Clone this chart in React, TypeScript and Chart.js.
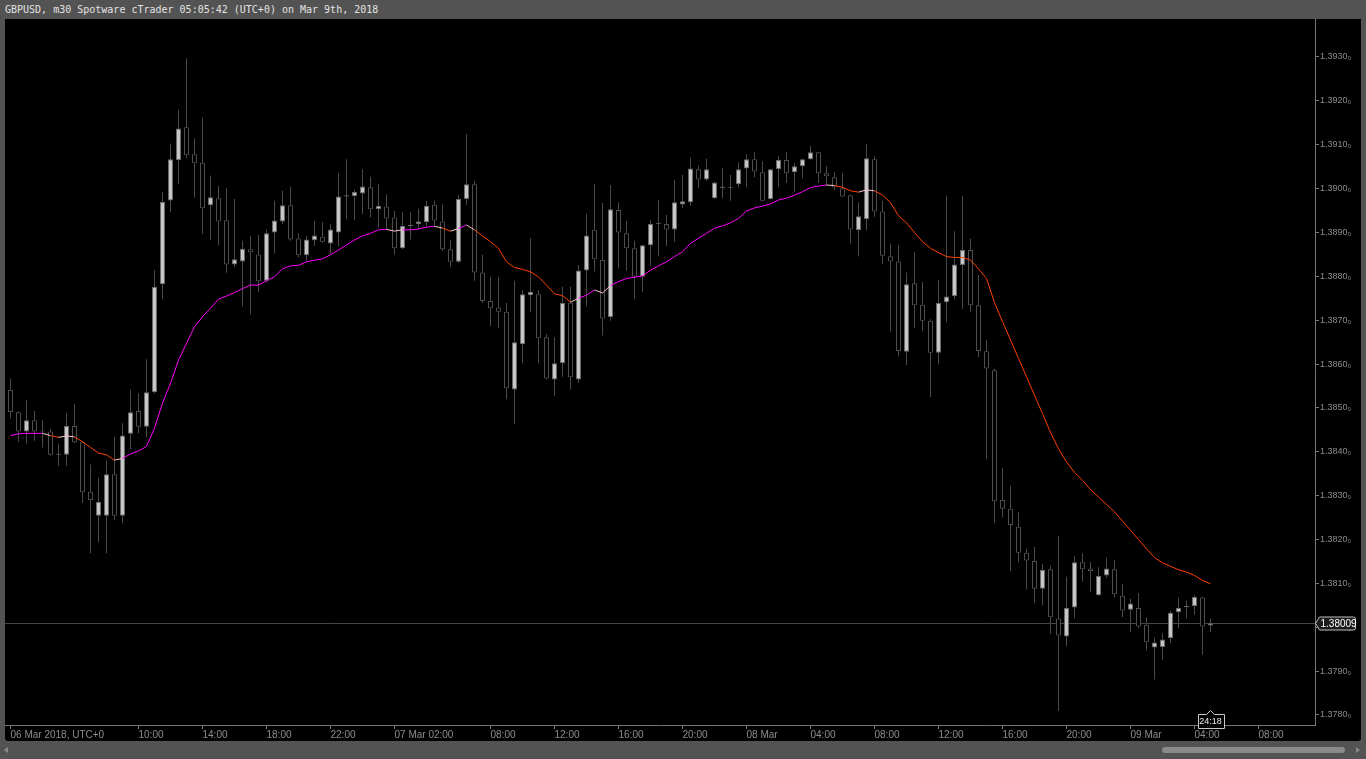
import { useEffect, useRef } from "react";
import { Chart, registerables } from "chart.js";

Chart.register(...registerables);

const TITLE = "GBPUSD, m30 Spotware cTrader 05:05:42 (UTC+0) on Mar 9th, 2018";

// 30-minute candles from 06 Mar 2018 02:00 to 09 Mar 2018 05:00 (index = candle number)
const OPEN = [
  1.38541, 1.38490, 1.38446, 1.38472, 1.38447, 1.38446, 1.38393, 1.38393, 1.38459, 1.38422,
  1.38309, 1.38254, 1.38254, 1.38349, 1.38254, 1.38441, 1.38493, 1.38457, 1.38536, 1.38782,
  1.38973, 1.39065, 1.39140, 1.39078, 1.39059, 1.38962, 1.38978, 1.38928, 1.38827, 1.38834,
  1.38862, 1.38850, 1.38790, 1.38900, 1.38925, 1.38962, 1.38886, 1.38848, 1.38882, 1.38890,
  1.38875, 1.38900, 1.38982, 1.38983, 1.38989, 1.39003, 1.38953, 1.38959, 1.38934, 1.38864,
  1.38915, 1.38919, 1.38923, 1.38963, 1.38925, 1.38862, 1.38833, 1.38976, 1.39010, 1.38809,
  1.38744, 1.38729, 1.38719, 1.38542, 1.38645, 1.38757, 1.38759, 1.38661, 1.38565, 1.38602,
  1.38740, 1.38565, 1.38813, 1.38906, 1.38837, 1.38707, 1.38951, 1.38898, 1.38864, 1.38799,
  1.38871, 1.38919, 1.38919, 1.38907, 1.38964, 1.38969, 1.39044, 1.39021, 1.38978, 1.39005,
  1.39002, 1.39010, 1.39046, 1.39067, 1.39037, 1.38976, 1.39044, 1.39065, 1.39037, 1.39051,
  1.39067, 1.39083, 1.39035, 1.39026, 1.39001, 1.38985, 1.38905, 1.38930, 1.39067, 1.38948,
  1.38846, 1.38834, 1.38628, 1.38784, 1.38735, 1.38699, 1.38626, 1.38741, 1.38755, 1.38826,
  1.38860, 1.38734, 1.38629, 1.38586, 1.38290, 1.38270, 1.38229, 1.38170, 1.38151, 1.38088,
  1.38132, 1.38020, 1.37979, 1.38045, 1.38148, 1.38134, 1.38073, 1.38118, 1.38132, 1.38072,
  1.38040, 1.38044, 1.38006, 1.37954, 1.37955, 1.37975, 1.38034, 1.38046, 1.38048, 1.38068,
  1.38004,
];
const HIGH = [
  1.38567, 1.38492, 1.38518, 1.38493, 1.38472, 1.38452, 1.38419, 1.38488, 1.38509, 1.38423,
  1.38371, 1.38340, 1.38381, 1.38434, 1.38465, 1.38542, 1.38533, 1.38611, 1.38814, 1.38992,
  1.39103, 1.39179, 1.39297, 1.39115, 1.39162, 1.39030, 1.39006, 1.39001, 1.38976, 1.38881,
  1.38892, 1.38894, 1.38907, 1.38972, 1.38995, 1.39004, 1.38898, 1.38892, 1.38926, 1.38923,
  1.38919, 1.39035, 1.39067, 1.38997, 1.39044, 1.39027, 1.39011, 1.38987, 1.38949, 1.38946,
  1.38946, 1.38954, 1.38972, 1.38972, 1.38964, 1.38883, 1.38985, 1.39124, 1.39017, 1.38849,
  1.38799, 1.38798, 1.38739, 1.38790, 1.38769, 1.38887, 1.38769, 1.38668, 1.38661, 1.38776,
  1.38776, 1.38826, 1.38942, 1.39011, 1.38967, 1.39008, 1.38969, 1.38926, 1.38881, 1.38872,
  1.38928, 1.38974, 1.38940, 1.39020, 1.39031, 1.39071, 1.39052, 1.39068, 1.39016, 1.39047,
  1.39031, 1.39060, 1.39079, 1.39083, 1.39062, 1.39045, 1.39074, 1.39083, 1.39058, 1.39068,
  1.39097, 1.39084, 1.39051, 1.39037, 1.39035, 1.38986, 1.38969, 1.39102, 1.39074, 1.38972,
  1.38875, 1.38871, 1.38809, 1.38855, 1.38787, 1.38702, 1.38792, 1.38984, 1.38903, 1.38983,
  1.38886, 1.38803, 1.38655, 1.38590, 1.38363, 1.38322, 1.38263, 1.38179, 1.38183, 1.38145,
  1.38141, 1.38208, 1.38115, 1.38162, 1.38168, 1.38149, 1.38137, 1.38159, 1.38153, 1.38099,
  1.38065, 1.38078, 1.38023, 1.37976, 1.37986, 1.38037, 1.38068, 1.38061, 1.38073, 1.38069,
  1.38019,
];
const LOW = [
  1.38476, 1.38423, 1.38419, 1.38425, 1.38410, 1.38391, 1.38368, 1.38368, 1.38420, 1.38283,
  1.38169, 1.38194, 1.38169, 1.38244, 1.38237, 1.38406, 1.38442, 1.38433, 1.38533, 1.38748,
  1.38946, 1.39011, 1.39069, 1.38979, 1.38897, 1.38883, 1.38871, 1.38808, 1.38821, 1.38731,
  1.38713, 1.38765, 1.38786, 1.38852, 1.38919, 1.38881, 1.38843, 1.38833, 1.38869, 1.38877,
  1.38851, 1.38868, 1.38930, 1.38928, 1.38942, 1.38934, 1.38911, 1.38907, 1.38850, 1.38862,
  1.38884, 1.38906, 1.38913, 1.38913, 1.38858, 1.38822, 1.38831, 1.38963, 1.38790, 1.38739,
  1.38687, 1.38683, 1.38520, 1.38463, 1.38602, 1.38719, 1.38602, 1.38565, 1.38528, 1.38571,
  1.38542, 1.38557, 1.38732, 1.38811, 1.38665, 1.38699, 1.38818, 1.38813, 1.38749, 1.38764,
  1.38824, 1.38846, 1.38869, 1.38879, 1.38955, 1.38961, 1.39002, 1.39018, 1.38976, 1.38978,
  1.38972, 1.39003, 1.39003, 1.39026, 1.38971, 1.38975, 1.39004, 1.39013, 1.38993, 1.39023,
  1.39066, 1.39013, 1.39008, 1.38997, 1.38981, 1.38875, 1.38845, 1.38905, 1.38936, 1.38828,
  1.38674, 1.38617, 1.38598, 1.38683, 1.38676, 1.38525, 1.38599, 1.38696, 1.38748, 1.38726,
  1.38719, 1.38616, 1.38384, 1.38238, 1.38250, 1.38128, 1.38149, 1.38086, 1.38056, 1.38050,
  1.37985, 1.37809, 1.37957, 1.38021, 1.38104, 1.38080, 1.38072, 1.38113, 1.38068, 1.38023,
  1.37989, 1.37998, 1.37947, 1.37881, 1.37926, 1.37964, 1.37998, 1.38020, 1.38029, 1.37938,
  1.37989,
];
const CLOSE = [
  1.38491, 1.38446, 1.38472, 1.38446, 1.38446, 1.38393, 1.38394, 1.38459, 1.38422, 1.38308,
  1.38290, 1.38286, 1.38349, 1.38254, 1.38437, 1.38490, 1.38457, 1.38536, 1.38776, 1.38970,
  1.39067, 1.39137, 1.39076, 1.39058, 1.38955, 1.38980, 1.38925, 1.38827, 1.38839, 1.38863,
  1.38855, 1.38789, 1.38898, 1.38927, 1.38962, 1.38884, 1.38848, 1.38884, 1.38893, 1.38879,
  1.38907, 1.38982, 1.38985, 1.38992, 1.39005, 1.38953, 1.38961, 1.38932, 1.38864, 1.38915,
  1.38916, 1.38925, 1.38961, 1.38927, 1.38862, 1.38833, 1.38976, 1.39010, 1.38809, 1.38744,
  1.38727, 1.38719, 1.38545, 1.38650, 1.38759, 1.38765, 1.38659, 1.38567, 1.38602, 1.38739,
  1.38570, 1.38813, 1.38893, 1.38839, 1.38704, 1.38953, 1.38900, 1.38864, 1.38799, 1.38871,
  1.38919, 1.38919, 1.38907, 1.38969, 1.38971, 1.39046, 1.39021, 1.39044, 1.39014, 1.39001,
  1.39003, 1.39044, 1.39067, 1.39039, 1.38972, 1.39044, 1.39065, 1.39035, 1.39051, 1.39067,
  1.39083, 1.39035, 1.39028, 1.39003, 1.38982, 1.38907, 1.38937, 1.39069, 1.38948, 1.38847,
  1.38834, 1.38630, 1.38782, 1.38734, 1.38699, 1.38626, 1.38739, 1.38754, 1.38827, 1.38860,
  1.38734, 1.38630, 1.38590, 1.38287, 1.38270, 1.38233, 1.38170, 1.38152, 1.38088, 1.38131,
  1.38023, 1.37981, 1.38044, 1.38148, 1.38132, 1.38128, 1.38117, 1.38134, 1.38075, 1.38038,
  1.38054, 1.38002, 1.37966, 1.37965, 1.37972, 1.38033, 1.38044, 1.38047, 1.38069, 1.38002,
  1.38009,
];
// moving average indicator
const MA = [
  1.38437, 1.38441, 1.38442, 1.38442, 1.38442, 1.38437, 1.38433, 1.38436, 1.38434, 1.38423,
  1.38410, 1.38397, 1.38393, 1.38381, 1.38385, 1.38395, 1.38402, 1.38412, 1.38454, 1.38511,
  1.38556, 1.38609, 1.38647, 1.38685, 1.38708, 1.38727, 1.38748, 1.38755, 1.38763, 1.38772,
  1.38780, 1.38780, 1.38790, 1.38799, 1.38817, 1.38824, 1.38825, 1.38833, 1.38837, 1.38840,
  1.38849, 1.38860, 1.38871, 1.38883, 1.38892, 1.38898, 1.38906, 1.38907, 1.38903, 1.38906,
  1.38906, 1.38908, 1.38912, 1.38914, 1.38910, 1.38903, 1.38909, 1.38917, 1.38906, 1.38892,
  1.38879, 1.38864, 1.38833, 1.38820, 1.38816, 1.38810, 1.38799, 1.38780, 1.38760, 1.38756,
  1.38741, 1.38750, 1.38757, 1.38769, 1.38762, 1.38779, 1.38788, 1.38795, 1.38798, 1.38801,
  1.38814, 1.38824, 1.38833, 1.38845, 1.38856, 1.38875, 1.38887, 1.38898, 1.38910, 1.38915,
  1.38922, 1.38932, 1.38949, 1.38956, 1.38960, 1.38965, 1.38974, 1.38978, 1.38985, 1.38993,
  1.39002, 1.39006, 1.39008, 1.39007, 1.39003, 1.38995, 1.38992, 1.38997, 1.38995, 1.38985,
  1.38968, 1.38938, 1.38922, 1.38900, 1.38879, 1.38864, 1.38854, 1.38845, 1.38843, 1.38843,
  1.38837, 1.38817, 1.38795, 1.38740, 1.38697, 1.38655, 1.38613, 1.38571, 1.38529, 1.38487,
  1.38444, 1.38407, 1.38377, 1.38353, 1.38335, 1.38314, 1.38297, 1.38280, 1.38263, 1.38242,
  1.38221, 1.38200, 1.38179, 1.38159, 1.38147, 1.38139, 1.38131, 1.38126, 1.38118, 1.38107,
  1.38099,
];

const X_TICK_INDEX = [0, 16, 24, 32, 40, 48, 60, 68, 76, 84, 92, 100, 108, 116, 124, 132, 140, 148, 156];
const X_TICK_LABELS = [
  "06 Mar 2018, UTC+0", "10:00", "14:00", "18:00", "22:00", "07 Mar 02:00", "08:00", "12:00",
  "16:00", "20:00", "08 Mar", "04:00", "08:00", "12:00", "16:00", "20:00", "09 Mar", "04:00", "08:00",
];
const Y_TICKS = [1.378, 1.379, 1.38, 1.381, 1.382, 1.383, 1.384, 1.385, 1.386, 1.387, 1.388, 1.389, 1.39, 1.391, 1.392, 1.393];
const LAST_PRICE = 1.38009;
const LAST_INDEX = 150;
const COUNTDOWN = "24:18";

const X_MIN = -0.6875;
const X_MAX = 163.0625;
const Y_MIN = 1.377772;
const Y_MAX = 1.393866;

const UP = "#ff00ff";
const DOWN = "#ff4000";
const TURN = "#ffc4cc";

const dirs: number[] = [];
for (let i = 0; i < MA.length - 1; i++) {
  const d = MA[i + 1] - MA[i];
  const prev = i > 0 ? dirs[i - 1] : 1;
  dirs.push(d > 0 ? 1 : d < 0 ? -1 : prev);
}
const SEG_COLORS = dirs.map((d, i) => (i > 0 && d !== dirs[i - 1] ? TURN : d > 0 ? UP : DOWN));

const FONT = '"Liberation Sans", Arial, sans-serif';

const overlay = {
  id: "overlay",
  beforeDatasetsDraw(chart: any) {
    const { ctx, chartArea, scales } = chart;
    const y = Math.round(scales.y.getPixelForValue(LAST_PRICE)) + 0.5;
    ctx.save();
    ctx.strokeStyle = "#474747";
    ctx.lineWidth = 1;
    ctx.beginPath();
    ctx.moveTo(chartArea.left, y);
    ctx.lineTo(chartArea.right, y);
    ctx.stroke();
    ctx.restore();
  },
  afterDraw(chart: any) {
    const { ctx, chartArea, scales } = chart;
    ctx.save();
    // current price label
    const y = Math.round(scales.y.getPixelForValue(LAST_PRICE)) + 0.5;
    const x0 = chartArea.right + 0.5;
    const bx = x0 + 4;
    const bw = 36;
    const h = 6.5;
    ctx.beginPath();
    ctx.moveTo(x0, y);
    ctx.lineTo(bx, y - h);
    ctx.lineTo(bx + bw - 2, y - h);
    ctx.quadraticCurveTo(bx + bw, y - h, bx + bw, y - h + 2);
    ctx.lineTo(bx + bw, y + h - 2);
    ctx.quadraticCurveTo(bx + bw, y + h, bx + bw - 2, y + h);
    ctx.lineTo(bx, y + h);
    ctx.closePath();
    ctx.fillStyle = "#1c1c1c";
    ctx.fill();
    ctx.strokeStyle = "#bdbdbd";
    ctx.lineWidth = 1;
    ctx.stroke();
    ctx.fillStyle = "#ffffff";
    ctx.font = `10px ${FONT}`;
    ctx.textAlign = "left";
    ctx.textBaseline = "middle";
    ctx.fillText(LAST_PRICE.toFixed(5), bx + 1, y + 0.5);

    // countdown box under the last candle
    const cx = scales.x.getPixelForValue(LAST_INDEX);
    const top = chartArea.bottom - 10.5;
    const bot = chartArea.bottom + 3.5;
    const l = Math.round(cx - 13) + 0.5;
    const r = Math.round(cx + 13) + 0.5;
    ctx.beginPath();
    ctx.moveTo(l, top);
    ctx.lineTo(cx - 4, top);
    ctx.lineTo(cx, top - 4);
    ctx.lineTo(cx + 4, top);
    ctx.lineTo(r, top);
    ctx.lineTo(r, bot);
    ctx.lineTo(l, bot);
    ctx.closePath();
    ctx.fillStyle = "#000000";
    ctx.fill();
    ctx.strokeStyle = "#c8c8c8";
    ctx.stroke();
    ctx.fillStyle = "#e6e6e6";
    ctx.textAlign = "center";
    ctx.font = `9px ${FONT}`;
    ctx.fillText(COUNTDOWN, cx, (top + bot) / 2 + 0.5);
    ctx.restore();
  },
};

export default function App() {
  const ref = useRef<HTMLCanvasElement>(null);

  useEffect(() => {
    const idx = OPEN.map((_, i) => i);
    const bull = (i: number) => CLOSE[i] > OPEN[i];
    const wickData = idx.map((i) => ({ x: i, y: [LOW[i], HIGH[i]] }));
    const bodyData = idx.map((i) => ({
      x: i,
      y: [Math.min(OPEN[i], CLOSE[i]), Math.max(OPEN[i], CLOSE[i])],
    }));
    const maData = MA.map((v, i) => ({ x: i, y: v }));

    const chart = new Chart(ref.current as HTMLCanvasElement, {
      type: "bar",
      data: {
        datasets: [
          {
            type: "line",
            data: maData as any,
            borderWidth: 1,
            borderColor: UP,
            pointRadius: 0,
            tension: 0,
            segment: { borderColor: (c: any) => SEG_COLORS[c.p0DataIndex] },
          } as any,
          {
            type: "bar",
            data: bodyData as any,
            barThickness: 5,
            grouped: false,
            minBarLength: 1,
            borderSkipped: false,
            borderWidth: 1,
            inflateAmount: 0,
            backgroundColor: (c: any) => (bull(c.dataIndex) ? "#c6c6c6" : "#000000"),
            borderColor: (c: any) => (bull(c.dataIndex) ? "#686868" : "#4e4e4e"),
          } as any,
          {
            type: "bar",
            data: wickData as any,
            barThickness: 1,
            grouped: false,
            borderWidth: 0,
            inflateAmount: 0,
            backgroundColor: "#4a4a4a",
          } as any,
        ],
      },
      options: {
        animation: false,
        responsive: false,
        events: [],
        layout: { padding: 0 },
        plugins: { legend: { display: false }, tooltip: { enabled: false }, title: { display: false } },
        scales: {
          x: {
            type: "linear",
            min: X_MIN,
            max: X_MAX,
            offset: false,
            grid: { display: true, drawOnChartArea: false, drawTicks: true, tickLength: 4, color: "#777777", offset: false },
            border: { display: true, color: "#777777", width: 1 },
            afterBuildTicks: (s: any) => {
              s.ticks = X_TICK_INDEX.map((v) => ({ value: v }));
            },
            afterFit: (s: any) => {
              s.height = 16;
              s.paddingLeft = 0;
              s.paddingRight = 0;
            },
            ticks: {
              autoSkip: false,
              maxRotation: 0,
              minRotation: 0,
              align: "start",
              padding: 0,
              color: "#8c8c8c",
              font: { family: FONT, size: 10 },
              callback: (v: any) => {
                const k = X_TICK_INDEX.indexOf(Number(v));
                return k >= 0 ? X_TICK_LABELS[k] : "";
              },
            },
          } as any,
          y: {
            type: "linear",
            position: "right",
            min: Y_MIN,
            max: Y_MAX,
            beginAtZero: false,
            grid: { display: true, drawOnChartArea: false, drawTicks: true, tickLength: 4, color: "#777777" },
            border: { display: true, color: "#777777", width: 1 },
            afterBuildTicks: (s: any) => {
              s.ticks = Y_TICKS.map((v) => ({ value: v }));
            },
            afterFit: (s: any) => {
              s.width = 46;
              s.paddingTop = 0;
              s.paddingBottom = 0;
            },
            ticks: {
              padding: 1,
              color: "#8c8c8c",
              font: { family: FONT, size: 9 },
              callback: (v: any) => Number(v).toFixed(4) + "\u2080",
            },
          } as any,
        },
      },
      plugins: [overlay],
    } as any);

    return () => chart.destroy();
  }, []);

  return (
    <div
      style={{
        position: "fixed",
        left: 0,
        top: 0,
        width: 1366,
        height: 759,
        background: "#535353",
        overflow: "hidden",
      }}
    >
      <div
        style={{
          position: "absolute",
          left: 5,
          top: 3,
          fontFamily: '"DejaVu Sans Mono", monospace',
          fontSize: 10,
          lineHeight: "13px",
          color: "#e2e2e2",
          whiteSpace: "pre",
        }}
      >
        {TITLE}
      </div>
      <div
        style={{
          position: "absolute",
          left: 5,
          top: 19,
          width: 1356,
          height: 722,
          background: "#000000",
          borderRadius: "0 0 3px 3px",
        }}
      >
        <canvas ref={ref} width={1356} height={722} style={{ display: "block" }} />
      </div>
      <div
        style={{
          position: "absolute",
          left: 4,
          top: 747,
          width: 0,
          height: 0,
          borderTop: "3px solid transparent",
          borderBottom: "3px solid transparent",
          borderRight: "4px solid #8a8a8a",
        }}
      />
      <div
        style={{
          position: "absolute",
          left: 1162,
          top: 747,
          width: 183,
          height: 6,
          background: "#8a8a8a",
          borderRadius: 3,
        }}
      />
      <div
        style={{
          position: "absolute",
          left: 1356,
          top: 747,
          width: 0,
          height: 0,
          borderTop: "3px solid transparent",
          borderBottom: "3px solid transparent",
          borderLeft: "4px solid #8a8a8a",
        }}
      />
    </div>
  );
}
